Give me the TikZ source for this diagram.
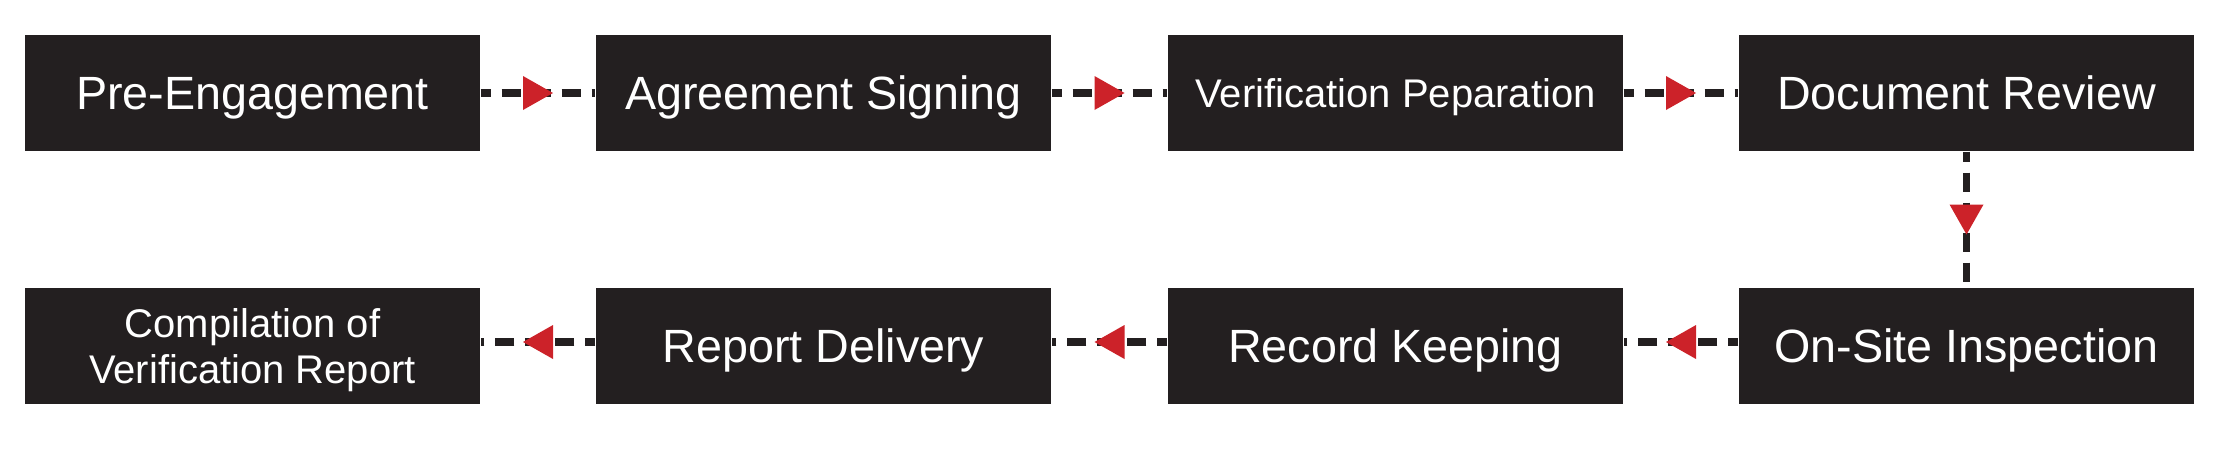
\documentclass[tikz,border=0pt]{standalone}
\usepackage{fontspec}
\setmainfont{Liberation Sans}
\usetikzlibrary{decorations.markings}
\definecolor{boxblack}{HTML}{231F20}
\definecolor{arrowred}{HTML}{CC2229}
\begin{document}
\begin{tikzpicture}[x=0.3pt,y=-0.3pt,
  stage/.style={fill=boxblack,text=white,minimum width=136.5pt,minimum height=34.8pt,
    inner sep=0pt,align=center,text depth=0pt,font=\fontsize{14}{16.8}\selectfont},
  smalltext/.style={font=\fontsize{12}{13.6}\selectfont},
  flow/.style={draw=boxblack,line width=2.2pt,dash pattern=on 5.7pt off 3.3pt,dash phase=2.7pt,
    postaction={decorate},
    decoration={markings,mark=at position 0.5 with
      {\fill[arrowred] (-4.5pt,5.1pt) -- (4.5pt,0pt) -- (-4.5pt,-5.1pt) -- cycle;}}}]
\useasboundingbox (0,0) rectangle (2225,449);
\node[stage] (pre) at (252.5,93) {Pre-Engagement};
\node[stage] (agr) at (823.5,93) {Agreement Signing};
\node[stage,smalltext] (ver) at (1395.5,93) {Verification Peparation};
\node[stage] (doc) at (1966.5,93) {Document Review};
\node[stage] (ons) at (1966.5,346) {On-Site Inspection};
\node[stage] (rec) at (1395.5,346) {Record Keeping};
\node[stage] (rep) at (823.5,346) {Report Delivery};
\node[stage,smalltext] (com) at (252.5,346) {Compilation of\\Verification Report};
\draw[flow] (pre.east) -- (agr.west);
\draw[flow] (agr.east) -- (ver.west);
\draw[flow] (ver.east) -- (doc.west);
\draw[flow] (doc.south) -- (ons.north);
\draw[flow] ([yshift=1.2pt]ons.west) -- ([yshift=1.2pt]rec.east);
\draw[flow] ([yshift=1.2pt]rec.west) -- ([yshift=1.2pt]rep.east);
\draw[flow] ([yshift=1.2pt]rep.west) -- ([yshift=1.2pt]com.east);
\end{tikzpicture}
\end{document}
